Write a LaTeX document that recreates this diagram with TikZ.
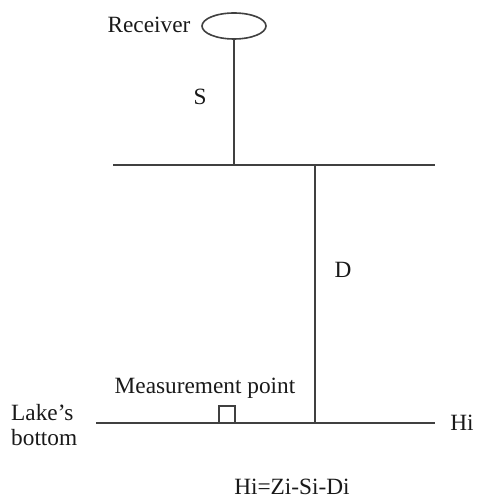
\documentclass[tikz,border=0pt]{standalone}
\usepackage{fontspec}
\setmainfont{Liberation Serif}
\usetikzlibrary{shapes.geometric}
\begin{document}
\begin{tikzpicture}[x=1pt,y=-1pt,
  ln/.style={draw=black!75, line width=1.6pt},
  lbl/.style={inner sep=0pt, font=\fontsize{23.3}{26}\selectfont, text=black!90}]
\useasboundingbox (0,0) rectangle (476,502);
% receiver
\node[ln, ellipse, minimum width=64pt, minimum height=26pt, inner sep=0pt] (rec) at (234,26) {};
\node[lbl] (reclbl) at (149,25) {Receiver};
% water surface
\coordinate (wsL) at (113,165);
\coordinate (wsR) at (435,165);
\coordinate (wsS) at (234,165);
\coordinate (wsD) at (315,165);
\draw[ln] (wsL) -- (wsR);
\draw[ln] (rec.south) -- (wsS);
\node[lbl] (S) at (200,97) {S};
% bottom
\coordinate (bL) at (96,423);
\coordinate (bR) at (435,423);
\coordinate (bD) at (315,423);
\draw[ln] (bL) -- (bR);
\draw[ln] (wsD) -- (bD);
\node[lbl] (D) at (343,270) {D};
% measurement point
\coordinate (m1) at (219,423);
\coordinate (m2) at (235,423);
\draw[ln] (m1) -- ++(0,-17) -| (m2);
\node[lbl] (mp) at (205,388) {Measurement point};
\node[lbl, align=left, anchor=west] (lake) at (11,425) {Lake’s\\[-1pt]bottom};
\node[lbl] (hi) at (462,423) {Hi};
\node[lbl] (eq) at (292,487) {Hi=Zi-Si-Di};
\end{tikzpicture}
\end{document}
